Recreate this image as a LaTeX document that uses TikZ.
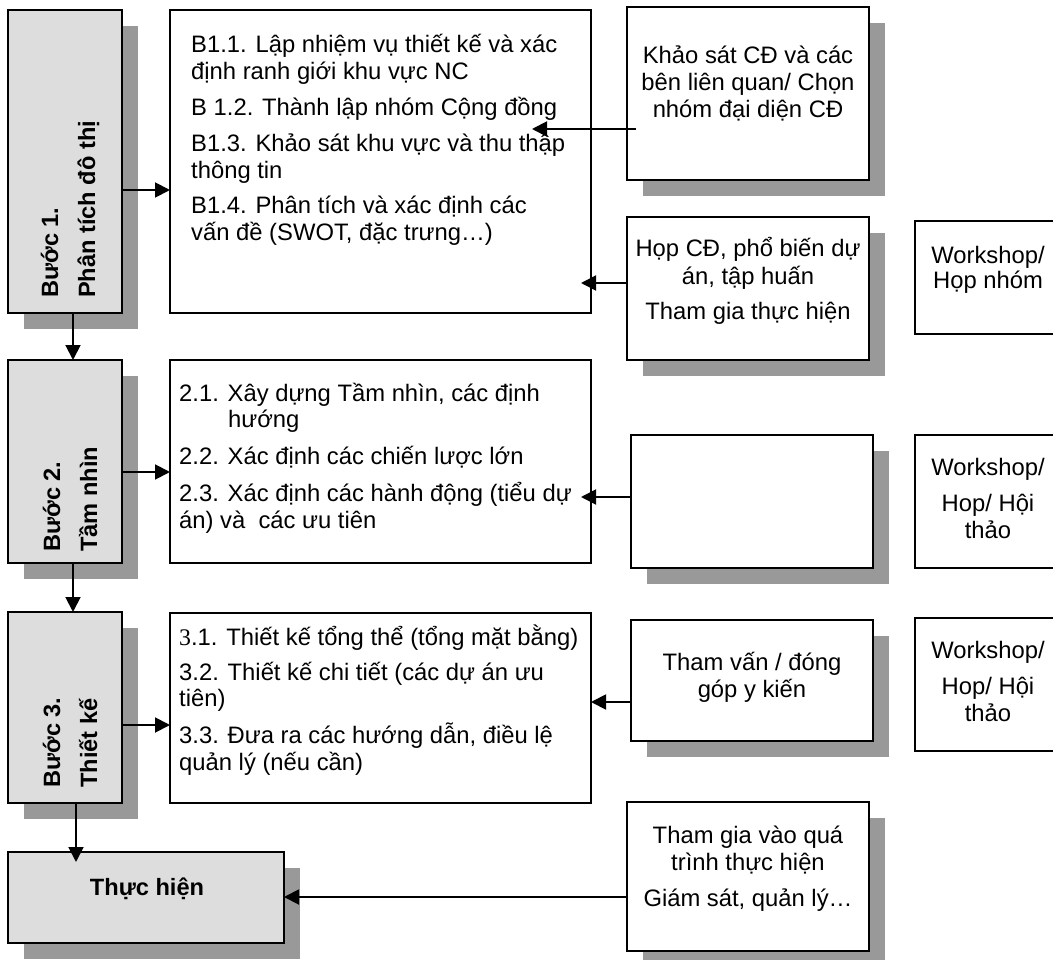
\documentclass[tikz,border=0pt]{standalone}
\usepackage{fontspec}
\setmainfont{Liberation Sans}
\newfontfamily\timesfont{Liberation Serif}
\usetikzlibrary{shadows,arrows.meta,calc}
\definecolor{stepfill}{HTML}{DDDDDD}
\definecolor{shadowgray}{HTML}{999999}
\newcommand{\tstrut}{\rule{0pt}{24pt}}
\tikzset{
 box/.style={draw=black, line width=1.9pt, inner sep=0pt, outer sep=0pt, fill=white},
 shadowed/.style={drop shadow={shadow xshift=16pt, shadow yshift=-16pt, opacity=1, fill=shadowgray}},
 stepbox/.style={box, fill=stepfill, shadowed},
 sidebox/.style={box, shadowed},
 steptext/.style={font=\fontsize{23.6}{37}\selectfont\bfseries, align=left, inner sep=0pt, rotate=90, anchor=west},
 bodytext/.style={font=\fontsize{23.8}{27}\selectfont, align=left, inner sep=0pt, anchor=north west},
 ctext/.style={font=\fontsize{23.8}{27}\selectfont, align=center, inner sep=0pt, anchor=north},
 arr/.style={line width=1.9pt, -{Triangle[length=15pt,width=15pt]}},
}
\begin{document}
\begin{tikzpicture}[x=1pt,y=-1pt]
\useasboundingbox (0,0) rectangle (1053,960);
\clip (0,0) rectangle (1053,960);

% step boxes
\node[stepbox, minimum width=114pt, minimum height=303pt] (s1) at (65,161.5) {};
\node[stepbox, minimum width=114pt, minimum height=203pt] (s2) at (65,461.5) {};
\node[stepbox, minimum width=114pt, minimum height=191pt] (s3) at (65,707.5) {};
\node[stepbox, minimum width=276pt, minimum height=91pt] (th) at (146,897.5) {};

% content boxes
\node[box, minimum width=421pt, minimum height=303pt] (b1) at (380.5,161.5) {};
\node[box, minimum width=421pt, minimum height=203pt] (b2) at (380.5,461.5) {};
\node[box, minimum width=421pt, minimum height=190pt] (b3) at (380.5,708) {};

% right boxes
\node[sidebox, minimum width=242pt, minimum height=173pt] (r1) at (748,93.5) {};
\node[sidebox, minimum width=242pt, minimum height=143pt] (r2) at (748,288.5) {};
\node[sidebox, minimum width=242pt, minimum height=133pt] (r3) at (752,501.5) {};
\node[sidebox, minimum width=242pt, minimum height=121pt] (r4) at (752,680.5) {};
\node[sidebox, minimum width=242pt, minimum height=149pt] (r5) at (748,876.5) {};

% workshop boxes
\node[box, minimum width=150pt, minimum height=113pt] (w1) at (990,277.5) {};
\node[box, minimum width=150pt, minimum height=133pt] (w2) at (990,501.5) {};
\node[box, minimum width=150pt, minimum height=133pt] (w3) at (990,684.5) {};

% texts
\node[steptext] (s1t) at (70,298) {Bước 1.\\Phân tích đô thị};
\node[steptext] (s2t) at (70,552) {Bước 2.\\Tầm nhìn};
\node[steptext] (s3t) at (70,788) {Bước 3.\\Thiết kế};
\node[font=\fontsize{23.6}{27}\selectfont\bfseries, anchor=base, inner sep=0pt] (tht) at (147,895) {Thực hiện};

\node[bodytext] (b1t) at (191,28) {\tstrut B1.1. Lập nhiệm vụ thiết kế và xác\\định ranh giới khu vực NC\\[9pt]B 1.2. Thành lập nhóm Cộng đồng\\[9pt]B1.3. Khảo sát khu vực và thu thập\\thông tin\\[8pt]B1.4. Phân tích và xác định các\\vấn đề (SWOT, đặc trưng…)};
\node[bodytext, font=\fontsize{23.8}{26.5}\selectfont] (b2t) at (179,377) {\tstrut 2.1. Xây dựng Tầm nhìn, các định\\\hspace*{49pt}hướng\\[10.5pt]2.2. Xác định các chiến lược lớn\\[10.5pt]2.3. Xác định các hành động (tiểu dự\\án) và\ \ các ưu tiên};
\node[bodytext, font=\fontsize{23.8}{26.5}\selectfont] (b3t) at (179,621) {\tstrut{\timesfont 3}.1. Thiết kế tổng thể (tổng mặt bằng)\\[8.5pt]3.2. Thiết kế chi tiết (các dự án ưu\\tiên)\\[10.5pt]3.3. Đưa ra các hướng dẫn, điều lệ\\quản lý (nếu cần)};

\node[ctext] (r1t) at (748,39) {\tstrut Khảo sát CĐ và các\\bên liên quan/ Chọn\\nhóm đại diện CĐ};
\node[ctext, font=\fontsize{23.8}{28.5}\selectfont] (r2t) at (748,232) {\tstrut Họp CĐ, phổ biến dự\\án, tập huấn\\[6.5pt]Tham gia thực hiện};
\node[ctext] (r4t) at (752,646) {\tstrut Tham vấn / đóng\\góp y kiến};
\node[ctext] (r5t) at (748,819) {\tstrut Tham gia vào quá\\trình thực hiện\\[9pt]Giám sát, quản lý…};

\node[ctext, font=\fontsize{23.8}{25.5}\selectfont] (w1t) at (988,239) {\tstrut Workshop/\\Họp nhóm};
\node[ctext] (w2t) at (988,451) {\tstrut Workshop/\\[9pt]Hop/ Hội\\thảo};
\node[ctext] (w3t) at (988,634) {\tstrut Workshop/\\[9pt]Hop/ Hội\\thảo};

% connectors
\draw[arr] (s1.east |- 0,190) -- (b1.west |- 0,190);
\draw[arr] (s1.south -| 73,0) -- (s2.north -| 73,0);
\draw[arr] (s2.east |- 0,472) -- (b2.west |- 0,472);
\draw[arr] (s2.south -| 73,0) -- (s3.north -| 73,0);
\draw[arr] (s3.east |- 0,725) -- (b3.west |- 0,725);
\draw[arr] (s3.south -| 76,0) -- ($(th.north -| 76,0)+(0,10)$);
\draw[arr] ($(r1.west |- 0,129)+(9,0)$) -- ($(b1.east |- 0,129)+(-59,0)$);
\draw[arr] (r2.west |- 0,283) -- ($(b1.east |- 0,283)+(-10,0)$);
\draw[arr] (r3.west |- 0,497) -- ($(b2.east |- 0,497)+(-10,0)$);
\draw[arr] (r4.west |- 0,702) -- (b3.east |- 0,702);
\draw[arr] (r5.west |- 0,897) -- (th.east |- 0,897);
\end{tikzpicture}
\end{document}
